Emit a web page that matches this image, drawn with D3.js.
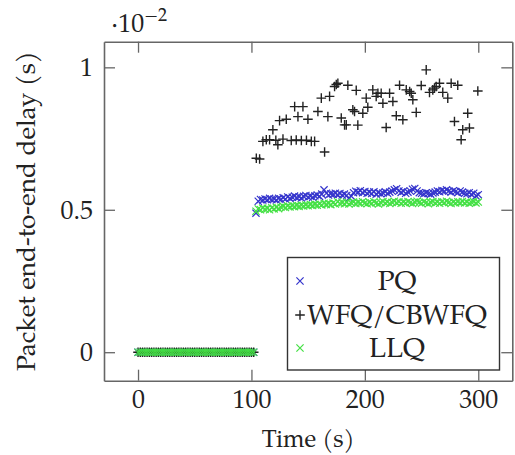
<!DOCTYPE html>
<html>
<head>
<meta charset="utf-8">
<script src="https://cdn.jsdelivr.net/npm/d3@7"></script>
<style>
  html, body { margin: 0; padding: 0; background: #fff; }
  svg { display: block; }
</style>
</head>
<body>
<svg id="chart" width="515" height="455"></svg>
<script>
// ---------- DATA (delay in units of 1e-2 s) ----------
const xTicks = [0, 100, 200, 300];
const yTicks = [0, 0.5, 1];
const seriesNames = ["PQ", "WFQ/CBWFQ", "LLQ"];

const timeGrid = [
  0,2,4,6,8,10,12,14,16,18,20,22,24,26,28,30,32,34,36,38,40,42,44,46,48,50,
  52,54,56,58,60,62,64,66,68,70,72,74,76,78,80,82,84,86,88,90,92,94,96,98,100,102,
  104,106,108,110,112,114,116,118,120,122,124,126,128,130,132,134,136,138,140,142,
  144,146,148,150,152,154,156,158,160,162,164,166,168,170,172,174,176,178,180,182,
  184,186,188,190,192,194,196,198,200,202,204,206,208,210,212,214,216,218,220,222,
  224,226,228,230,232,234,236,238,240,242,244,246,248,250,252,254,256,258,260,262,
  264,266,268,270,272,274,276,278,280,282,284,286,288,290,292,294,296,298,300
];

const pqDelay = [
  0,0,0,0,0,0,0,0,0,0,0,0,0,0,0,0,0,0,0,0,0,0,0,0,0,0,
  0,0,0,0,0,0,0,0,0,0,0,0,0,0,0,0,0,0,0,0,0,0,0,0,0,0,
  0.488,0.530,0.536,0.534,0.538,0.535,0.540,0.536,0.538,0.534,0.540,0.537,0.542,0.538,0.545,0.540,0.544,0.548,0.543,0.546,
  0.541,0.547,0.550,0.545,0.548,0.544,0.549,0.552,0.547,0.555,0.570,0.558,0.552,0.556,0.554,0.558,0.553,0.557,0.552,0.555,
  0.550,0.541,0.548,0.560,0.565,0.562,0.567,0.560,0.564,0.558,0.562,0.557,0.563,0.555,0.560,0.556,0.559,0.563,0.558,0.562,
  0.566,0.570,0.574,0.566,0.561,0.565,0.558,0.562,0.566,0.572,0.575,0.566,0.560,0.558,0.556,0.560,0.557,0.555,0.559,0.562,
  0.566,0.563,0.568,0.565,0.570,0.566,0.562,0.567,0.564,0.560,0.566,0.562,0.558,0.556,0.560,0.554,0.558,0.549,0.553
];

const llqDelay = [
  0,0,0,0,0,0,0,0,0,0,0,0,0,0,0,0,0,0,0,0,0,0,0,0,0,0,
  0,0,0,0,0,0,0,0,0,0,0,0,0,0,0,0,0,0,0,0,0,0,0,0,0,0,
  0.495,0.503,0.500,0.506,0.502,0.505,0.500,0.507,0.503,0.508,0.504,0.509,0.512,0.508,0.513,0.510,0.514,0.511,0.515,0.512,
  0.516,0.513,0.517,0.514,0.518,0.515,0.519,0.516,0.520,0.517,0.523,0.519,0.522,0.518,0.524,0.520,0.528,0.522,0.525,0.521,
  0.526,0.520,0.524,0.527,0.522,0.526,0.523,0.528,0.524,0.521,0.526,0.523,0.528,0.524,0.520,0.525,0.529,0.524,0.527,0.522,
  0.526,0.530,0.525,0.528,0.523,0.527,0.524,0.529,0.525,0.522,0.527,0.530,0.526,0.523,0.528,0.525,0.521,0.526,0.529,0.524,
  0.527,0.523,0.528,0.525,0.530,0.526,0.522,0.527,0.524,0.528,0.525,0.529,0.524,0.527,0.523,0.526,0.528,0.524,0.527
];

const wfqTime = [
  0,2,4,6,8,10,12,14,16,18,20,22,24,26,28,30,32,34,36,38,40,42,44,46,48,50,
  52,54,56,58,60,62,64,66,68,70,72,74,76,78,80,82,84,86,88,90,92,94,96,98,100,102,
  104.3,107.2,110.1,113.1,116.0,118.9,121.5,123.3,124.8,127.8,130.7,135.1,138.1,139.5,141.0,144.0,
  145.4,148.5,149.8,152.8,155.7,158.6,161.6,164.5,167.4,168.9,173.3,174.8,176.2,179.2,182.1,183.6,
  185.0,189.4,190.9,192.4,193.8,198.2,201.2,202.6,207.0,210.0,211.5,214.4,215.9,218.8,221.8,224.7,
  227.7,230.6,233.5,236.5,239.5,240.9,242.3,245.3,249.7,254.1,257.0,259.9,261.4,262.9,265.8,268.7,
  273.1,276.1,279.0,281.9,284.9,286.3,290.7,292.2,299.6
];

const wfqDelay = [
  0,0,0,0,0,0,0,0,0,0,0,0,0,0,0,0,0,0,0,0,0,0,0,0,0,0,
  0,0,0,0,0,0,0,0,0,0,0,0,0,0,0,0,0,0,0,0,0,0,0,0,0,0,
  0.681,0.678,0.740,0.746,0.746,0.781,0.744,0.728,0.813,0.748,0.818,0.743,0.862,0.745,0.827,0.743,
  0.862,0.744,0.818,0.740,0.740,0.845,0.892,0.703,0.827,0.898,0.933,0.940,0.944,0.822,0.798,0.798,
  0.937,0.851,0.845,0.919,0.797,0.839,0.892,0.860,0.921,0.898,0.909,0.909,0.874,0.789,0.909,0.880,
  0.830,0.937,0.816,0.921,0.915,0.909,0.886,0.842,0.936,0.991,0.912,0.921,0.927,0.933,0.944,0.912,
  0.892,0.944,0.810,0.937,0.746,0.781,0.839,0.787,0.917
];

// ---------- CHART ----------
const svg = d3.select("#chart");
const box = { left: 104, right: 512.3, top: 41.7, bottom: 380.7 };
const FONT = "'TeX Gyre Pagella'";
const TEXT_COLOR = "#222";

const x = d3.scaleLinear().domain([-30, 330]).range([box.left, box.right]);
const y = d3.scaleLinear().domain([-0.1, 1.09]).range([box.bottom, box.top]);

// fit a font size so that a sample string reaches a target width
function fitSize(sample, targetWidth, base) {
  const t = svg.append("text").style("font-family", FONT).style("font-size", base + "px").text(sample);
  const w = t.node().getComputedTextLength();
  t.remove();
  return w > 0 ? base * targetWidth / w : base;
}
const tickSize = fitSize("300", 39, 26);
const xLabelSize = fitSize("Time (s)", 93, 26);
const yLabelSize = fitSize("Packet end-to-end delay (s)", 320, 26);
const legendSize = fitSize("WFQ/CBWFQ", 180, 26);
const supSize = tickSize * 0.7;

const axisColor = "#666";
const tickLen = 11;
const fmt = d3.format("~g");

function styleAxis(g) {
  g.selectAll("path.domain").attr("stroke", axisColor).attr("stroke-width", 1.6);
  g.selectAll(".tick line").attr("stroke", axisColor).attr("stroke-width", 1.3);
  g.selectAll(".tick text")
    .attr("fill", TEXT_COLOR)
    .style("font-family", FONT)
    .style("font-size", tickSize + "px");
}

svg.append("g")
  .attr("transform", `translate(0,${box.bottom})`)
  .call(d3.axisBottom(x).tickValues(xTicks).tickFormat(fmt)
        .tickSizeInner(-tickLen).tickSizeOuter(0).tickPadding(9))
  .call(styleAxis);

svg.append("g")
  .attr("transform", `translate(0,${box.top})`)
  .call(d3.axisTop(x).tickValues(xTicks).tickFormat("")
        .tickSizeInner(-tickLen).tickSizeOuter(0))
  .call(styleAxis);

svg.append("g")
  .attr("transform", `translate(${box.left},0)`)
  .call(d3.axisLeft(y).tickValues(yTicks).tickFormat(fmt)
        .tickSizeInner(-tickLen).tickSizeOuter(0).tickPadding(11))
  .call(styleAxis);

svg.append("g")
  .attr("transform", `translate(${box.right},0)`)
  .call(d3.axisRight(y).tickValues(yTicks).tickFormat("")
        .tickSizeInner(-tickLen).tickSizeOuter(0))
  .call(styleAxis);

// exponent label
const expo = svg.append("text")
  .attr("x", 111).attr("y", 32)
  .attr("fill", TEXT_COLOR)
  .style("font-family", FONT)
  .style("font-size", tickSize + "px");
expo.append("tspan").text("\u00B710");
expo.append("tspan").attr("dy", -11).style("font-size", supSize + "px").text("\u22122");

// axis labels
svg.append("text")
  .attr("x", (box.left + box.right) / 2).attr("y", 447)
  .attr("text-anchor", "middle")
  .attr("fill", TEXT_COLOR)
  .style("font-family", FONT)
  .style("font-size", xLabelSize + "px")
  .text("Time (s)");

svg.append("text")
  .attr("transform", `translate(35,${(box.top + box.bottom) / 2}) rotate(-90)`)
  .attr("text-anchor", "middle")
  .attr("fill", TEXT_COLOR)
  .style("font-family", FONT)
  .style("font-size", yLabelSize + "px")
  .text("Packet end-to-end delay (s)");

// markers
const crossPath = "M-3.6,-3.6L3.6,3.6M-3.6,3.6L3.6,-3.6";
const plusPath = "M-4.8,0H4.8M0,-4.8V4.8";
const colors = { PQ: "#3434cc", WFQ: "#222", LLQ: "#44e044" };

function drawSeries(times, values, path, color, width) {
  svg.append("g")
    .selectAll("path")
    .data(times.map((t, i) => [t, values[i]]))
    .join("path")
    .attr("transform", d => `translate(${x(d[0])},${y(d[1])})`)
    .attr("d", path)
    .attr("fill", "none")
    .attr("stroke", color)
    .attr("stroke-width", width);
}

drawSeries(timeGrid, pqDelay, crossPath, colors.PQ, 1.2);
drawSeries(wfqTime, wfqDelay, plusPath, colors.WFQ, 1.4);
drawSeries(timeGrid, llqDelay, crossPath, colors.LLQ, 1.2);

// legend
const lg = svg.append("g");
lg.append("rect")
  .attr("x", 287.5).attr("y", 257.5).attr("width", 212).attr("height", 112.5)
  .attr("fill", "#fff").attr("stroke", "#333").attr("stroke-width", 1.4);

const legendRows = [
  { name: seriesNames[0], path: crossPath, color: colors.PQ, w: 1.2, cy: 281 },
  { name: seriesNames[1], path: plusPath, color: colors.WFQ, w: 1.4, cy: 315 },
  { name: seriesNames[2], path: crossPath, color: colors.LLQ, w: 1.2, cy: 348 }
];
legendRows.forEach(r => {
  lg.append("path")
    .attr("transform", `translate(300,${r.cy})`)
    .attr("d", r.path).attr("fill", "none")
    .attr("stroke", r.color).attr("stroke-width", r.w);
  lg.append("text")
    .attr("x", 397).attr("y", r.cy + 9)
    .attr("text-anchor", "middle")
    .attr("fill", TEXT_COLOR)
    .style("font-family", FONT)
    .style("font-size", legendSize + "px")
    .text(r.name);
});
</script>
</body>
</html>
